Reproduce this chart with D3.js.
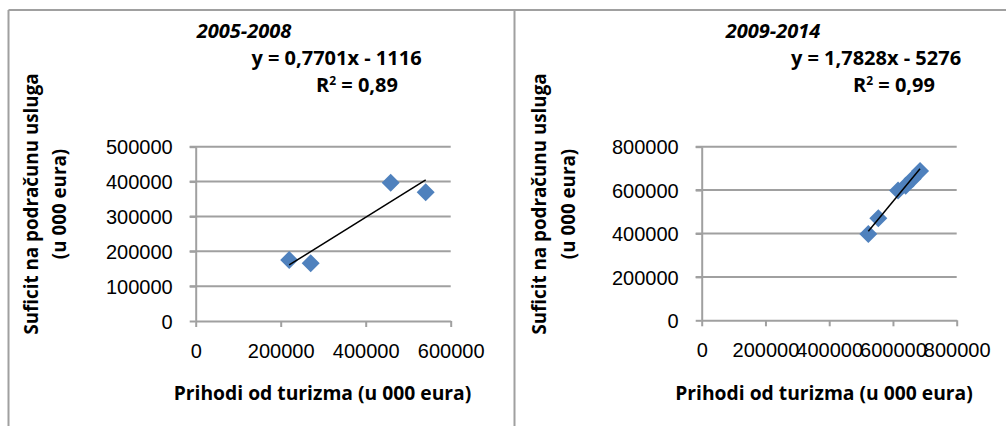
<!DOCTYPE html>
<html>
<head>
<meta charset="utf-8">
<script src="https://cdn.jsdelivr.net/npm/d3@7"></script>
<style>
  body { margin: 0; background: #fff; }
  svg { display: block; font-family: 'Open Sans', Lato, sans-serif; }
  .tick text { font-size: 20px; fill: #000; }
  .grid line { stroke: #a0a0a0; stroke-width: 2; }
  .axis path, .axis line { stroke: #a0a0a0; stroke-width: 2; }
  .frame { stroke: #a0a0a0; stroke-width: 2; }
  .bold { font-size: 19.3px; font-weight: bold; }
  .ylab { font-size: 18.8px; font-weight: bold; }
  .head { font-size: 20px; font-weight: bold; }
</style>
</head>
<body>
<div id="chart"></div>
<script>
const width = 1006;
const height = 426;

// 2005-2008
const prihodi0508 = [220000, 270600, 458800, 541200];
const suficit0508 = [175000, 165500, 396700, 369200];
const yTicks0508 = [0, 100000, 200000, 300000, 400000, 500000];
const xTicks0508 = [0, 200000, 400000, 600000];

// 2009-2014
const prihodi0914 = [522700, 554000, 616000, 640000, 662000, 685000];
const suficit0914 = [397700, 470000, 598000, 620000, 652000, 688000];
const yTicks0914 = [0, 200000, 400000, 600000, 800000];
const xTicks0914 = [0, 200000, 400000, 600000, 800000];

const titles = ['2005-2008', '2009-2014'];
const equations = ['y = 0,7701x - 1116', 'y = 1,7828x - 5276'];
const r2Values = ['0,89', '0,99'];
const yTitle = ['Suficit na podračunu usluga', '(u 000 eura)'];
const xTitle = 'Prihodi od turizma (u 000 eura)';

const svg = d3
  .select('#chart')
  .append('svg')
  .attr('width', width)
  .attr('height', height);

// outer frame lines
svg.append('line').attr('class', 'frame')
  .attr('x1', 8.5).attr('x2', width).attr('y1', 10).attr('y2', 10);
svg.append('line').attr('class', 'frame')
  .attr('x1', 8.5).attr('x2', 8.5).attr('y1', 10).attr('y2', height);
svg.append('line').attr('class', 'frame')
  .attr('x1', 514.5).attr('x2', 514.5).attr('y1', 10).attr('y2', height);

const panels = [
  {
    xs: prihodi0508, ys: suficit0508, xTicks: xTicks0508, yTicks: yTicks0508,
    title: titles[0], eq: equations[0], r2: r2Values[0],
    left: 195.7, right: 450.7, top: 146.7, bottom: 321,
    titleX: 244, eqX: 336.5, r2X: 357, yLab: [38, 66], xTitleX: 322.5
  },
  {
    xs: prihodi0914, ys: suficit0914, xTicks: xTicks0914, yTicks: yTicks0914,
    title: titles[1], eq: equations[1], r2: r2Values[1],
    left: 701.7, right: 956.7, top: 146.7, bottom: 320.3,
    titleX: 773, eqX: 876, r2X: 894, yLab: [546, 575], xTitleX: 824
  }
];

function regression(xs, ys) {
  const mx = d3.mean(xs);
  const my = d3.mean(ys);
  const sxy = d3.sum(xs, (v, i) => (v - mx) * (ys[i] - my));
  const sxx = d3.sum(xs, (v) => (v - mx) * (v - mx));
  const slope = sxy / sxx;
  return { slope, intercept: my - slope * mx };
}

panels.forEach((p) => {
  const g = svg.append('g');

  const x = d3.scaleLinear()
    .domain([0, d3.max(p.xTicks)])
    .range([p.left, p.right]);
  const y = d3.scaleLinear()
    .domain([0, d3.max(p.yTicks)])
    .range([p.bottom, p.top]);

  // horizontal gridlines
  g.append('g')
    .attr('class', 'grid')
    .selectAll('line')
    .data(p.yTicks.filter((t) => t > 0))
    .enter()
    .append('line')
    .attr('x1', p.left - 6)
    .attr('x2', p.right)
    .attr('y1', (d) => y(d))
    .attr('y2', (d) => y(d));

  const yAxis = g.append('g')
    .attr('class', 'axis')
    .attr('transform', 'translate(' + p.left + ',0)')
    .call(d3.axisLeft(y).tickValues(p.yTicks).tickSize(6).tickSizeOuter(0).tickPadding(17).tickFormat(d3.format('d')));
  yAxis.selectAll('.tick text').attr('dy', '0.36em');

  g.append('g')
    .attr('class', 'axis')
    .attr('transform', 'translate(0,' + p.bottom + ')')
    .call(d3.axisBottom(x).tickValues(p.xTicks).tickSize(6).tickSizeOuter(0).tickPadding(17).tickFormat(d3.format('d')));

  // trend line
  const reg = regression(p.xs, p.ys);
  const xExt = d3.extent(p.xs);

  // diamond markers
  g.selectAll('.pt')
    .data(p.xs)
    .enter()
    .append('path')
    .attr('class', 'pt')
    .attr('d', 'M0,-9L9,0L0,9L-9,0Z')
    .attr('fill', '#4f81bd')
    .attr('transform', (d, i) => 'translate(' + x(d) + ',' + y(p.ys[i]) + ')');

  g.append('line')
    .attr('x1', x(xExt[0]))
    .attr('y1', y(reg.slope * xExt[0] + reg.intercept))
    .attr('x2', x(xExt[1]))
    .attr('y2', y(reg.slope * xExt[1] + reg.intercept))
    .attr('stroke', '#000')
    .attr('stroke-width', 1.5);

  // title
  g.append('text')
    .attr('class', 'head')
    .attr('x', p.titleX)
    .attr('y', 38)
    .attr('text-anchor', 'middle')
    .style('font-style', 'italic')
    .text(p.title);

  g.append('text')
    .attr('class', 'head')
    .attr('x', p.eqX)
    .attr('y', 65)
    .attr('text-anchor', 'middle')
    .text(p.eq);

  const r2 = g.append('text')
    .attr('class', 'head')
    .attr('x', p.r2X)
    .attr('y', 92)
    .attr('text-anchor', 'middle');
  r2.append('tspan').text('R');
  r2.append('tspan').attr('dy', -7).style('font-size', '12px').text('2');
  r2.append('tspan').attr('dy', 7).text(' = ' + p.r2);

  // y axis title (two lines)
  yTitle.forEach((t, i) => {
    g.append('text')
      .attr('class', 'ylab')
      .attr('transform', 'translate(' + p.yLab[i] + ',204) rotate(-90)')
      .attr('text-anchor', 'middle')
      .text(t);
  });

  g.append('text')
    .attr('class', 'bold')
    .attr('x', p.xTitleX)
    .attr('y', 400)
    .attr('text-anchor', 'middle')
    .text(xTitle);
});
</script>
</body>
</html>
